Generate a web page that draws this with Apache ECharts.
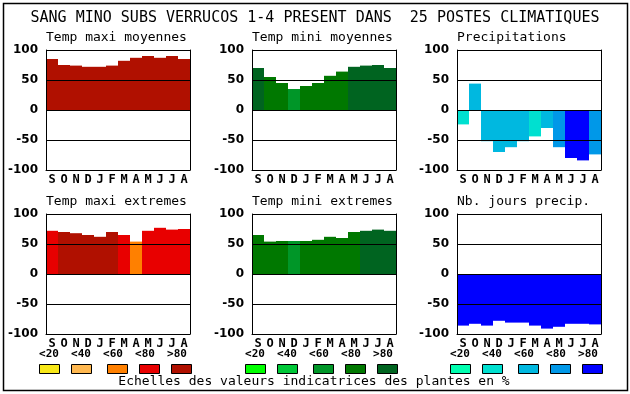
<!DOCTYPE html>
<html><head><meta charset="utf-8">
<script src="https://cdn.jsdelivr.net/npm/echarts@6/dist/echarts.min.js"></script>
<style>html,body{margin:0;padding:0;background:#fff}#c{width:630px;height:394px}</style>
</head><body><div id="c"></div>
<script>
const months = ['S','O','N','D','J','F','M','A','M','J','J','A'];
const legendLabels = ['<20','<40','<60','<80','>80'];
const mainTitle = 'SANG MINO SUBS VERRUCOS 1-4 PRESENT DANS  25 POSTES CLIMATIQUES';
const caption = 'Echelles des valeurs indicatrices des plantes en %';
const panelTitles = ['Temp maxi moyennes','Temp mini moyennes','Precipitations','Temp maxi extremes','Temp mini extremes','Nb. jours precip.'];

const redScale = ['#f8e818','#ffb850','#ff8000','#e80000','#b01000'];
const greenScale = ['#00ff00','#00c838','#009628','#007800','#006420'];
const blueScale = ['#00ffb0','#00e0d0','#00b8e0','#0098e8','#0000ff'];

const tmaxMoy = [85,75,74,72,72,74,82,87,90,87,90,85];
const tmaxMoyClass = [4,4,4,4,4,4,4,4,4,4,4,4];
const tminMoy = [70,55,45,35,40,45,57,64,72,74,75,70];
const tminMoyClass = [4,3,3,2,3,3,3,3,4,4,4,4];
const precip = [-24,44,-52,-70,-62,-52,-44,-30,-62,-80,-84,-74];
const precipClass = [1,2,2,2,2,2,1,2,3,4,4,3];
const tmaxExt = [72,70,68,65,62,70,65,54,72,77,74,75];
const tmaxExtClass = [3,4,4,4,4,4,3,2,3,3,3,3];
const tminExt = [65,54,55,55,55,57,62,60,70,72,74,72];
const tminExtClass = [3,3,3,2,3,3,3,3,3,4,4,4];
const joursPrecip = [-86,-83,-86,-78,-81,-81,-86,-91,-88,-83,-83,-84];
const joursPrecipClass = [4,4,4,4,4,4,4,4,4,4,4,4];

const panels = [
  {vals:tmaxMoy, cls:tmaxMoyClass, scale:redScale},
  {vals:tminMoy, cls:tminMoyClass, scale:greenScale},
  {vals:precip, cls:precipClass, scale:blueScale},
  {vals:tmaxExt, cls:tmaxExtClass, scale:redScale},
  {vals:tminExt, cls:tminExtClass, scale:greenScale},
  {vals:joursPrecip, cls:joursPrecipClass, scale:blueScale}
];
const lefts = [46,252,457];
const tops = [50,214];
const W = 144, H = 120;

const grid = [], xAxis = [], yAxis = [], series = [], graphic = [];
panels.forEach((p,i)=>{
  const col = i%3, row = Math.floor(i/3);
  grid.push({left:lefts[col], top:tops[row], width:W, height:H});
  xAxis.push({type:'category', gridIndex:i, data:months, z:10,
    axisLine:{onZero:false, lineStyle:{color:'#000',width:1}},
    axisTick:{show:false},
    axisLabel:{interval:0, margin:4, color:'#000', fontFamily:'DejaVu Sans Mono', fontWeight:'bold', fontSize:12}});
  yAxis.push({type:'value', gridIndex:i, min:-100, max:100, interval:50, z:10,
    axisLine:{show:true, lineStyle:{color:'#000',width:1}},
    axisTick:{show:false},
    splitLine:{show:true, lineStyle:{color:'#000',width:1}},
    axisLabel:{margin:8, color:'#000', fontFamily:'DejaVu Sans', fontWeight:'bold', fontSize:12}});
  yAxis.push({type:'value', gridIndex:i, min:-100, max:100, interval:50, position:'right', z:10,
    axisLine:{show:true, lineStyle:{color:'#000',width:1}},
    axisTick:{show:false}, splitLine:{show:false}, axisLabel:{show:false}});
  series.push({type:'bar', xAxisIndex:i, yAxisIndex:2*i, barWidth:'100%', barCategoryGap:'0%',
    data:p.vals.map((v,k)=>({value:v, itemStyle:{color:p.scale[p.cls[k]]}})), silent:true});
  graphic.push({type:'text', x:lefts[col], y:row?202:38,
    style:{text:panelTitles[i], font:'13px "DejaVu Sans Mono"', fill:'#000', textVerticalAlign:'middle'}});
});

// main title, caption, frame
graphic.push({type:'text', x:315, y:18.5, style:{text:mainTitle, font:'15px "DejaVu Sans Mono"', fill:'#000', textAlign:'center', textVerticalAlign:'middle'}});
graphic.push({type:'text', x:314, y:381.5, style:{text:caption, font:'13px "DejaVu Sans Mono"', fill:'#000', textAlign:'center', textVerticalAlign:'middle'}});
graphic.push({type:'rect', shape:{x:3.5,y:3.5,width:624,height:387}, style:{fill:'none', stroke:'#000', lineWidth:1.5}, z:-1});

// legends under bottom row
const boxOffsets = [0,32,68,100,132];
const scales = [redScale, greenScale, blueScale];
lefts.forEach((L,c)=>{
  legendLabels.forEach((lab,k)=>{
    graphic.push({type:'text', x:L+3+32*k, y:354.5, style:{text:lab, font:'bold 11px "DejaVu Sans Mono"', fill:'#000', textAlign:'center', textVerticalAlign:'middle'}});
    graphic.push({type:'rect', shape:{x:L-7+boxOffsets[k]+0.5, y:364.5, width:20, height:9}, style:{fill:scales[c][k], stroke:'#000', lineWidth:1}});
  });
});

const chart = echarts.init(document.getElementById('c'), null, {renderer:'canvas'});
chart.setOption({backgroundColor:'#fff', animation:false, grid, xAxis, yAxis, series, graphic});
</script></body></html>
